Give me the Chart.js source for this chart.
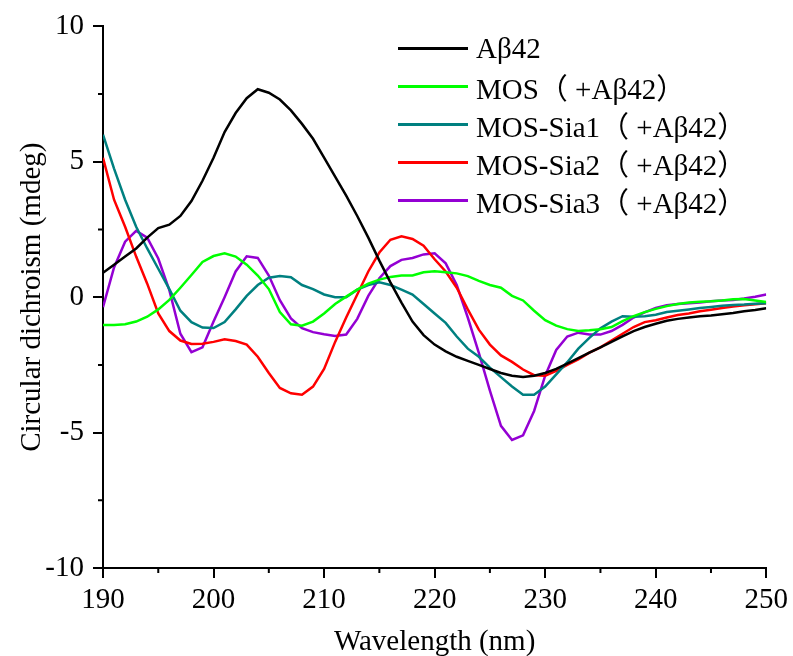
<!DOCTYPE html>
<html>
<head>
<meta charset="utf-8">
<script src="https://cdn.jsdelivr.net/npm/chart.js@4.4.0/dist/chart.umd.min.js"></script>
<style>
    body { margin: 0; background: #ffffff; }
    #wrap { position: relative; width: 793px; height: 656px; overflow: hidden; }
    #chart-cd-legend { position: absolute; left: 398px; top: 29px; font-family: "Liberation Serif", "Times New Roman", "Noto Sans CJK SC", serif; font-size: 29px; color: #000; }
    .legend-row { display: flex; align-items: center; height: 38px; }
    .legend-line { width: 70px; height: 3px; margin-right: 8px; }
</style>
</head>
<body>
<div id="wrap">
    <canvas id="chart-cd" width="793" height="656"></canvas>
    <div id="chart-cd-legend"></div>
</div>
<script>
// wavelength (nm), 1 nm steps
const wavelengths = [];
for (let w = 190; w <= 250; w++) wavelengths.push(w);

const seriesLabels = ['Aβ42', 'MOS（ +Aβ42）', 'MOS-Sia1（ +Aβ42）', 'MOS-Sia2（ +Aβ42）', 'MOS-Sia3（ +Aβ42）'];
const seriesColors = ['#000000', '#00ff00', '#008080', '#ff0000', '#9400d3'];

const abeta = [
    0.9, 1.2, 1.5, 1.8, 2.2, 2.55, 2.68, 3.0, 3.55, 4.3,
    5.15, 6.1, 6.8, 7.35, 7.68, 7.55, 7.3, 6.9, 6.4, 5.85,
    5.15, 4.45, 3.75, 3.0, 2.2, 1.35, 0.55, -0.2, -0.9, -1.4,
    -1.75, -2.0, -2.2, -2.35, -2.5, -2.65, -2.8, -2.9, -2.95, -2.9,
    -2.8, -2.65, -2.45, -2.25, -2.05, -1.85, -1.65, -1.45, -1.25, -1.1,
    -0.98, -0.87, -0.8, -0.75, -0.7, -0.68, -0.63, -0.58, -0.52, -0.47,
    -0.41
];
const mos = [
    -1.03, -1.03, -1.0, -0.9, -0.72, -0.45, -0.1, 0.35, 0.82, 1.3,
    1.52, 1.62, 1.5, 1.2, 0.8, 0.3, -0.55, -1.0, -1.05, -0.9,
    -0.6, -0.25, 0.02, 0.28, 0.5, 0.65, 0.75, 0.8, 0.8, 0.92,
    0.96, 0.92, 0.88, 0.78, 0.6, 0.45, 0.35, 0.05, -0.12, -0.5,
    -0.85, -1.05, -1.18, -1.25, -1.22, -1.18, -1.1, -0.88, -0.7, -0.55,
    -0.43, -0.33, -0.25, -0.2, -0.17, -0.15, -0.12, -0.08, -0.07, -0.12,
    -0.18
];
const mosSia1 = [
    6.0, 4.75, 3.6, 2.6, 1.8, 1.05, 0.3, -0.5, -0.92, -1.12,
    -1.14, -0.92, -0.45, 0.05, 0.45, 0.72, 0.78, 0.74, 0.45, 0.3,
    0.1, 0.0, 0.0, 0.28, 0.45, 0.55, 0.45, 0.28, 0.1, -0.25,
    -0.6, -0.95, -1.45, -1.9, -2.2, -2.6, -2.95, -3.3, -3.6, -3.6,
    -3.3, -2.85, -2.4, -1.9, -1.5, -1.15, -0.9, -0.7, -0.72, -0.7,
    -0.65, -0.55, -0.5, -0.45, -0.4, -0.36, -0.32, -0.29, -0.27, -0.24,
    -0.22
];
const mosSia2 = [
    5.15, 3.6, 2.6, 1.5, 0.5, -0.6, -1.25, -1.6, -1.73, -1.72,
    -1.65, -1.55, -1.62, -1.75, -2.2, -2.8, -3.35, -3.55, -3.6, -3.3,
    -2.65, -1.65, -0.75, 0.1, 0.95, 1.65, 2.12, 2.25, 2.15, 1.9,
    1.4, 0.95, 0.35, -0.45, -1.2, -1.75, -2.15, -2.39, -2.67, -2.88,
    -2.9, -2.72, -2.5, -2.3, -2.05, -1.85, -1.6, -1.35, -1.1, -0.92,
    -0.85, -0.75, -0.66, -0.6, -0.52, -0.46, -0.4, -0.34, -0.3, -0.26,
    -0.22
];
const mosSia3 = [
    -0.37, 1.1, 2.05, 2.45, 2.2, 1.43, 0.26, -1.35, -2.03, -1.85,
    -0.9, 0.0, 0.95, 1.51, 1.45, 0.8, -0.11, -0.78, -1.14, -1.29,
    -1.37, -1.43, -1.38, -0.8, 0.05, 0.7, 1.15, 1.38, 1.45, 1.58,
    1.62, 1.25, 0.45, -0.75, -2.06, -3.45, -4.75, -5.27, -5.1, -4.2,
    -2.9, -1.95, -1.45, -1.31, -1.38, -1.38, -1.25, -1.02, -0.75, -0.56,
    -0.4, -0.3, -0.25, -0.22, -0.2, -0.15, -0.12, -0.1, -0.05, 0.02,
    0.1
];

const minorX = [195, 205, 215, 225, 235, 245];
const minorY = [7.5, 2.5, -2.5, -7.5];
// -------------------------------------------------------------------------------------------
const minorTicks = {
    id: 'minorTicks',
    afterDraw(chart) {
        const ctx = chart.ctx;
        const xs = chart.scales.x, ys = chart.scales.y;
        ctx.save();
        ctx.strokeStyle = '#000';
        ctx.lineWidth = 2;
        ctx.beginPath();
        minorX.forEach(v => {
            const px = xs.getPixelForValue(v);
            ctx.moveTo(px, xs.top);
            ctx.lineTo(px, xs.top + 5);
        });
        minorY.forEach(v => {
            const py = ys.getPixelForValue(v);
            ctx.moveTo(ys.right, py);
            ctx.lineTo(ys.right - 5, py);
        });
        ctx.stroke();
        ctx.restore();
    }
};
// -------------------------------------------------------------------------------------------
function drawCdChart()
{
    const allSeries = [abeta, mos, mosSia1, mosSia2, mosSia3];
    const font = { family: '"Liberation Serif", "Times New Roman", serif', size: 29 };

    let data = {
        datasets: allSeries.map((values, i) => ({
            label: seriesLabels[i],
            data: wavelengths.map((w, j) => ({ x: w, y: values[j] })),
            borderColor: seriesColors[i],
            backgroundColor: seriesColors[i],
            borderWidth: 2.5,
            pointRadius: 0,
            tension: 0
        }))
    };

    let options = {
        responsive: false,
        animation: false,
        layout: { padding: { top: 25, right: 25, left: 0, bottom: 0 } },
        plugins: {
            legend: { display: false },
            tooltip: { enabled: false }
        },
        scales: {
            x: {
                type: 'linear',
                min: 190,
                max: 250,
                afterFit: (scale) => { scale.height = 88; },
                border: { display: true, color: '#000', width: 2 },
                grid: { drawOnChartArea: false, drawTicks: true, tickLength: 10, color: '#000', lineWidth: 2 },
                ticks: { stepSize: 10, color: '#000', font: font, padding: 5, maxRotation: 0 },
                title: { display: true, text: 'Wavelength (nm)', color: '#000', font: font, padding: { top: 0, bottom: -4 } }
            },
            y: {
                min: -10,
                max: 10,
                afterFit: (scale) => { scale.width = 103; },
                border: { display: true, color: '#000', width: 2 },
                grid: { drawOnChartArea: false, drawTicks: true, tickLength: 10, color: '#000', lineWidth: 2 },
                ticks: { stepSize: 5, color: '#000', font: font, padding: 9 },
                title: { display: true, text: 'Circular dichroism (mdeg)', color: '#000', font: font, padding: { top: 15, bottom: 0 } }
            }
        }
    };

    new Chart('chart-cd', {
        type: 'line',
        plugins: [minorTicks],
        data: data,
        options: options
    });

    const legendContainer = document.getElementById('chart-cd-legend');
    legendContainer.innerHTML = '';
    seriesLabels.forEach((label, index) => {
        const row = document.createElement('div');
        row.className = 'legend-row';
        const line = document.createElement('span');
        line.className = 'legend-line';
        line.style.backgroundColor = seriesColors[index];
        row.appendChild(line);
        const text = document.createElement('span');
        text.textContent = label;
        row.appendChild(text);
        legendContainer.appendChild(row);
    });
}

drawCdChart();
</script>
</body>
</html>
